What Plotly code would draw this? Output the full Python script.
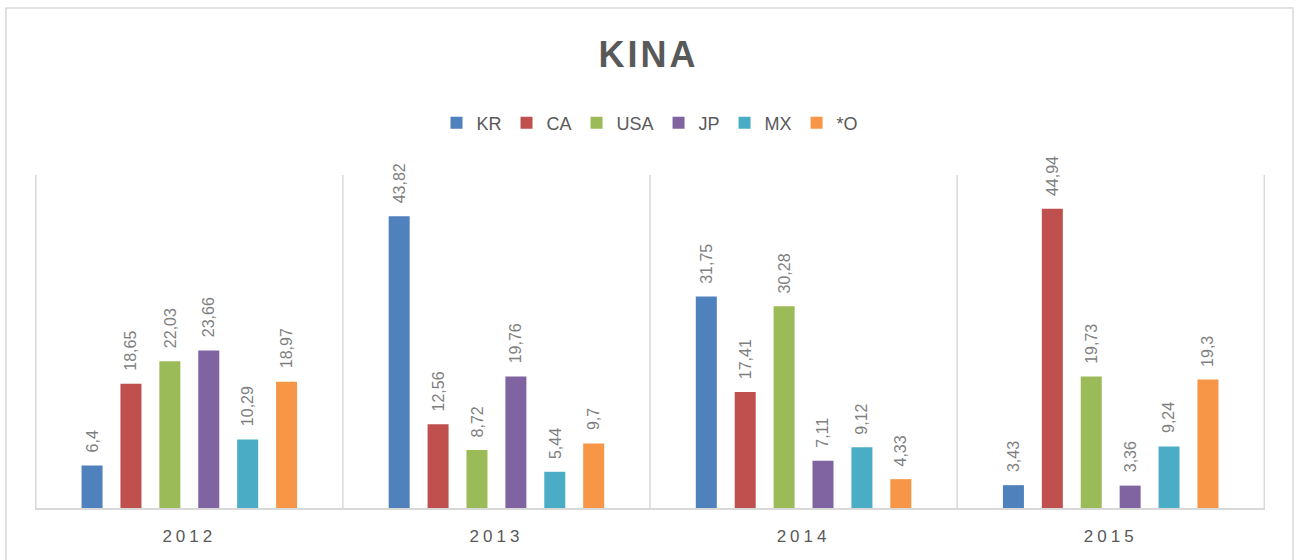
import plotly.graph_objects as go

years = ["2012", "2013", "2014", "2015"]
series_names = ["KR", "CA", "USA", "JP", "MX", "*O"]
kr = [6.4, 43.82, 31.75, 3.43]
ca = [18.65, 12.56, 17.41, 44.94]
usa = [22.03, 8.72, 30.28, 19.73]
jp = [23.66, 19.76, 7.11, 3.36]
mx = [10.29, 5.44, 9.12, 9.24]
other = [18.97, 9.7, 4.33, 19.3]
colors = ["#4F81BD", "#C0504D", "#9BBB59", "#8064A2", "#4BACC6", "#F79646"]

all_series = [kr, ca, usa, jp, mx, other]
BARGAP = 0.24
n_series = len(all_series)

fig = go.Figure()
annotations = []
for j, (name, vals, col) in enumerate(zip(series_names, all_series, colors)):
    fig.add_trace(go.Bar(
        name=name, x=years, y=vals,
        marker=dict(color=col, line=dict(width=0)),
    ))
    for i, v in enumerate(vals):
        annotations.append(dict(
            x=i + (j - (n_series - 1) / 2) * (1 - BARGAP) / n_series,
            xref="x", y=v, yref="y",
            text=f"{v:g}".replace(".", ","), textangle=-90,
            showarrow=False, xanchor="center", yanchor="bottom", yshift=11,
            font=dict(family="Liberation Sans", size=16, color="#7F7F7F"),
        ))

shapes = []
for i in range(len(years) + 1):
    shapes.append(dict(type="line", xref="x", yref="paper",
                       x0=i - 0.5, x1=i - 0.5, y0=0, y1=1,
                       line=dict(color="#D9D9D9", width=1.5), layer="below"))
# outer chart border
shapes.append(dict(type="rect", xref="paper", yref="paper",
                   x0=-0.0236, x1=1.0228, y0=-0.2, y1=1.5015,
                   line=dict(color="#D9D9D9", width=1.5)))

fig.update_layout(
    width=1297, height=560,
    paper_bgcolor="white", plot_bgcolor="white",
    margin=dict(l=35, r=32, t=175, b=52),
    title=dict(text="<b><span style='letter-spacing:3px'>KINA</span></b>",
               x=0.5, xanchor="center", y=0.902, yanchor="middle",
               font=dict(family="Liberation Sans", size=36, color="#595959")),
    legend=dict(orientation="h", x=0.5, xanchor="center", y=1.156, yanchor="middle",
                font=dict(family="Liberation Sans", size=18, color="#595959"),
                itemwidth=30, traceorder="normal"),
    barmode="group", bargap=BARGAP, bargroupgap=0.46,
    xaxis=dict(showgrid=False, showline=True, linecolor="#D9D9D9", linewidth=1.5,
               ticks="", ticklabelstandoff=12,
               tickfont=dict(family="Liberation Sans", size=17, color="#595959"),
               tickvals=years,
               ticktext=[f"<span style='letter-spacing:4px'>{y}</span>" for y in years]),
    yaxis=dict(range=[0, 50], visible=False),
    shapes=shapes,
    annotations=annotations,
    showlegend=True,
)

fig.write_html("out.html", config={"displayModeBar": False},
               post_script="document.body.style.margin='0px';")
